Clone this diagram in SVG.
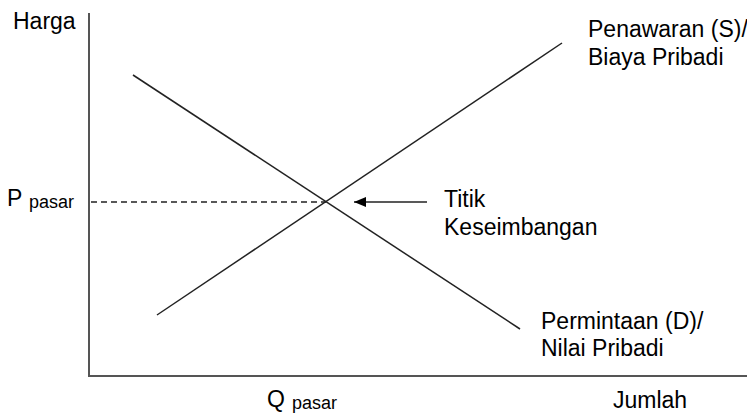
<svg xmlns="http://www.w3.org/2000/svg" width="747" height="413" viewBox="0 0 747 413">
<style>
text{font-family:"Liberation Sans",Arial,sans-serif;font-size:23px;fill:#000}
.sub{font-size:18px}
.axis{stroke:#555;stroke-width:2;fill:none}
.curve{stroke:#222;stroke-width:1.5;fill:none}
.dash{stroke:#222;stroke-width:1.3;stroke-dasharray:6 4;fill:none}
</style>
<defs>
<marker id="ah" viewBox="0 0 12 10" refX="12" refY="5" markerWidth="12" markerHeight="10" markerUnits="userSpaceOnUse" orient="auto">
<path d="M0,0 L12,5 L0,10 Z" fill="#000"/>
</marker>
</defs>
<g id="axes">
<line class="axis" x1="89" y1="13" x2="89" y2="376"/>
<line class="axis" x1="88" y1="376" x2="747" y2="376"/>
</g>
<g id="connectors">
<line id="demand" class="curve" x1="133" y1="75" x2="520" y2="329"/>
<line id="supply" class="curve" x1="157" y1="315" x2="562" y2="43"/>
<line id="p-dash" class="dash" x1="91" y1="202" x2="326" y2="202"/>
<line id="eq-arrow" class="curve" x1="427" y1="202" x2="354" y2="202" marker-end="url(#ah)"/>
</g>
<g id="label-harga"><text x="13" y="29">Harga</text></g>
<g id="label-supply"><text x="588" y="37">Penawaran (S)/</text><text x="588" y="65">Biaya Pribadi</text></g>
<g id="label-ppasar"><text x="7" y="206">P <tspan class="sub" x="29" dy="2">pasar</tspan></text></g>
<g id="label-eq"><text x="444" y="207">Titik</text><text x="444" y="235">Keseimbangan</text></g>
<g id="label-demand"><text x="541" y="329">Permintaan (D)/</text><text x="541" y="356">Nilai Pribadi</text></g>
<g id="label-qpasar"><text x="267" y="407">Q <tspan class="sub" x="292" dy="2">pasar</tspan></text></g>
<g id="label-jumlah"><text x="613" y="408">Jumlah</text></g>
</svg>
